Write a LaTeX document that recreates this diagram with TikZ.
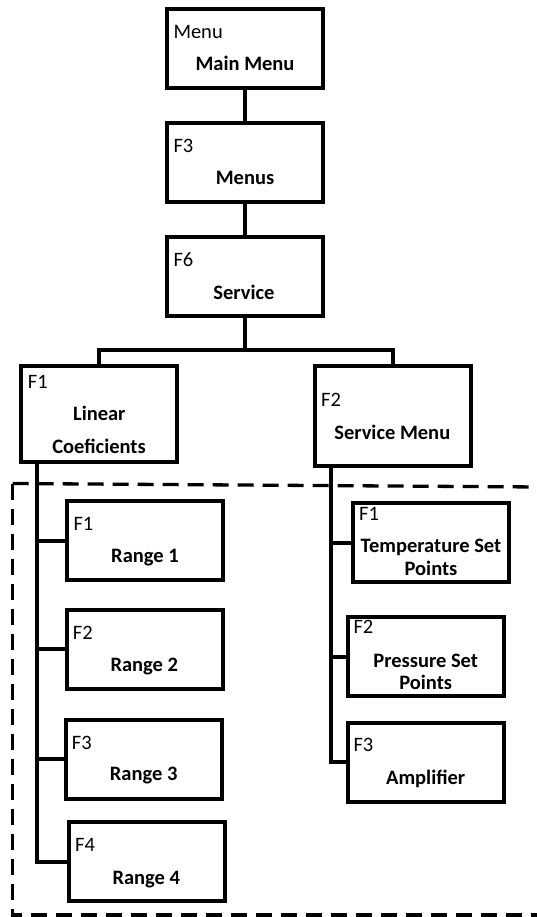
\documentclass[tikz,border=0pt]{standalone}
\usepackage{fontspec}
\setmainfont{Carlito}
\begin{document}
\begin{tikzpicture}[x=1pt,y=-1pt,
  box/.style={draw=black,line width=4pt,rectangle,inner sep=0pt,minimum width=156pt,minimum height=79pt},
  conn/.style={draw=black,line width=4pt,line join=miter},
  key/.style={anchor=base west,inner sep=0pt,font=\fontsize{20.5}{24}\selectfont},
  ttl/.style={anchor=base,inner sep=0pt,font=\fontsize{20.5}{24}\selectfont\bfseries},
  dashline/.style={draw=black,line width=3.3pt,dash pattern=on 16pt off 9pt}]
\fill[white] (0,0) rectangle (537,917);
\useasboundingbox (0,0) rectangle (537,917);

% boxes
\node[box] (mm) at (245,49) {};
\node[box] (mn) at (245,162.3) {};
\node[box] (sv) at (245,276.5) {};
\node[box,minimum height=96pt] (lc) at (99.3,414.2) {};
\node[box,minimum height=100pt] (sm) at (392.7,416.3) {};
\node[box] (r1) at (145.3,540.5) {};
\node[box] (r2) at (144.5,649) {};
\node[box] (r3) at (143.5,759) {};
\node[box] (r4) at (146.7,861.7) {};
\node[box] (tp) at (431.3,542.5) {};
\node[box] (pr) at (425.5,656.7) {};
\node[box] (am) at (425.5,762.3) {};

% texts
\node[key] (k1) at (173.3,38.3) {Menu};
\node[ttl] (t1) at (245,71) {Main Menu};
\node[key] (k2) at (173.3,152.3) {F3};
\node[ttl] (t2) at (245,185) {Menus};
\node[key] (k3) at (173.3,266) {F6};
\node[ttl] (t3) at (244,299) {Service};
\node[key] (k4) at (27.7,388.3) {F1};
\node[ttl] (t4a) at (99.3,420) {Linear};
\node[ttl] (t4b) at (99,453.3) {Coeficients};
\node[key] (k5) at (321,406) {F2};
\node[ttl] (t5) at (392.3,439) {Service Menu};
\node[key] (k6) at (73.3,530) {F1};
\node[ttl] (t6) at (145,562.7) {Range 1};
\node[key] (k7) at (72.7,639) {F2};
\node[ttl] (t7) at (144.3,671.7) {Range 2};
\node[key] (k8) at (71.7,749.3) {F3};
\node[ttl] (t8) at (143.7,780.7) {Range 3};
\node[key] (k9) at (75,851.7) {F4};
\node[ttl] (t9) at (146.3,884) {Range 4};
\node[key] (k10) at (359,520) {F1};
\node[ttl] (t10a) at (431,552.7) {Temperature Set};
\node[ttl] (t10b) at (431,575.3) {Points};
\node[key] (k11) at (353.3,633.3) {F2};
\node[ttl] (t11a) at (425.7,667.7) {Pressure Set};
\node[ttl] (t11b) at (425.7,689.3) {Points};
\node[key] (k12) at (353.3,751.7) {F3};
\node[ttl] (t12) at (425.7,784.3) {Amplifier};

% connectors
\draw[conn] (mm.south) -- (mn.north);
\draw[conn] (mn.south) -- (sv.north);
\coordinate (j) at (245,350);
\draw[conn] (sv.south) -- (j);
\draw[conn] (lc.north) |- (j) -| (sm.north);

\coordinate (lsp) at (36.7,462);
\draw[conn] (lsp) |- (r4.west);
\draw[conn] (lsp |- r1.west) -- (r1.west);
\draw[conn] (lsp |- r2.west) -- (r2.west);
\draw[conn] (lsp |- r3.west) -- (r3.west);

\coordinate (rsp) at (331,466.3);
\draw[conn] (rsp) |- (am.west);
\draw[conn] (rsp |- tp.west) -- (tp.west);
\draw[conn] (rsp |- pr.west) -- (pr.west);

% dashed region
\coordinate (d1) at (12.7,483.5);
\coordinate (d2) at (540,487);
\coordinate (d3) at (12.7,915);
\coordinate (d4) at (540,915);
\draw[dashline] (d1) -- (d2);
\draw[dashline] (d1) -- (d3) -- (d4);
\end{tikzpicture}
\end{document}
